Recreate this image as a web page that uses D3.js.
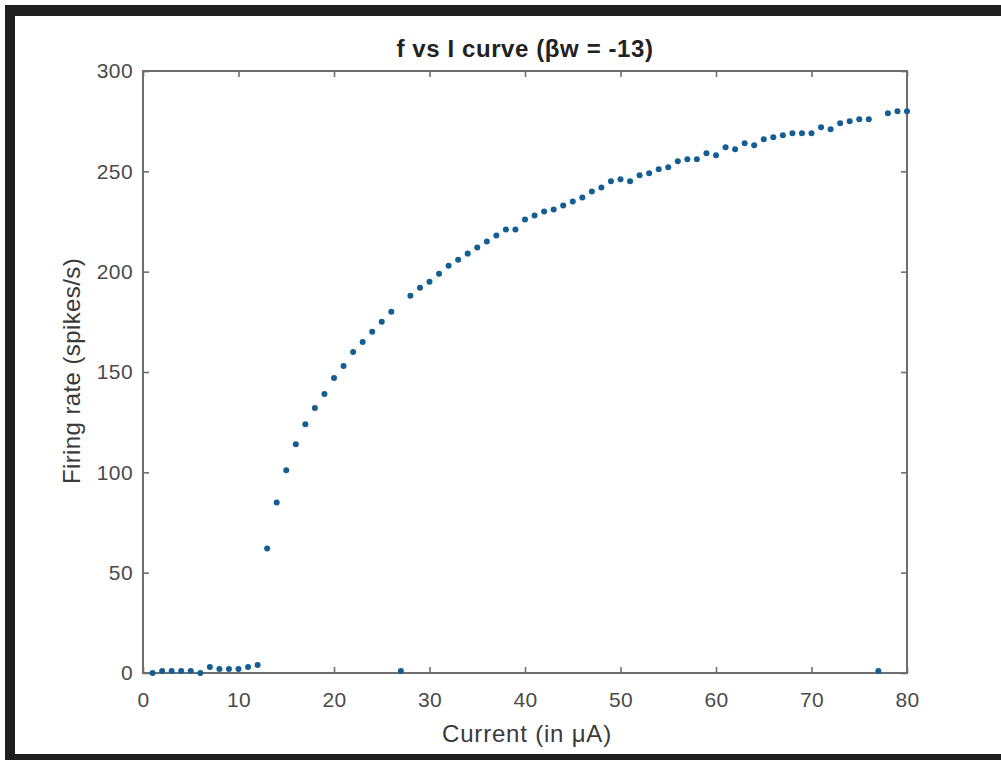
<!DOCTYPE html>
<html>
<head>
<meta charset="utf-8">
<script src="https://cdn.jsdelivr.net/npm/d3@7"></script>
<style>
  html, body { margin: 0; padding: 0; background: #fff; }
  svg { display: block; }
  text { font-family: "Liberation Sans", Arial, sans-serif; }
</style>
</head>
<body>
<svg id="chart" width="1001" height="760"></svg>
<script>
// ---- data ----
const current = [1,2,3,4,5,6,7,8,9,10,11,12,13,14,15,16,17,18,19,20,
                 21,22,23,24,25,26,27,28,29,30,31,32,33,34,35,36,37,38,39,40,
                 41,42,43,44,45,46,47,48,49,50,51,52,53,54,55,56,57,58,59,60,
                 61,62,63,64,65,66,67,68,69,70,71,72,73,74,75,76,77,78,79,80];
const firingRate = [0,1,1,1,1,0,3,2,2,2,3,4,62,85,101,114,124,132,139,147,
                    153,160,165,170,175,180,1,188,192,195,199,203,206,209,212,215,218,221,221,226,
                    228,230,231,233,235,237,240,242,245,246,245,248,249,251,252,255,256,256,259,258,
                    262,261,264,263,266,267,268,269,269,269,272,271,274,275,276,276,1,279,280,280];
const xTicks = [0,10,20,30,40,50,60,70,80];
const yTicks = [0,50,100,150,200,250,300];
const titleText = "f vs I curve (\u03B2w = -13)";
const xLabel = "Current (in \u03BCA)";
const yLabel = "Firing rate (spikes/s)";

const svg = d3.select("#chart");

// photo frame (black border on top, left and bottom)
svg.append("rect").attr("x", 5).attr("y", 5).attr("width", 996).attr("height", 755).attr("fill", "#1e1e1e");
svg.append("rect").attr("x", 15).attr("y", 16).attr("width", 986).attr("height", 738).attr("fill", "#ffffff");

const plot = { left: 143, right: 907, top: 71, bottom: 673 };
const x = d3.scaleLinear().domain([0, 80]).range([plot.left, plot.right]);
const y = d3.scaleLinear().domain([0, 300]).range([plot.bottom, plot.top]);

const axisColor = "#6f6f6f";
const tickText = "#4a4a4a";

// box
svg.append("rect")
  .attr("x", plot.left).attr("y", plot.top)
  .attr("width", plot.right - plot.left).attr("height", plot.bottom - plot.top)
  .attr("fill", "none").attr("stroke", axisColor).attr("stroke-width", 2);

function styleAxis(g) {
  g.select(".domain").remove();
  g.selectAll(".tick line").attr("stroke", axisColor).attr("stroke-width", 1.6);
  g.selectAll(".tick text").attr("fill", tickText).style("font-size", "21px").style("letter-spacing", "0.4px");
}

// bottom axis (ticks inward)
svg.append("g").attr("transform", `translate(0,${plot.bottom})`)
  .call(d3.axisBottom(x).tickValues(xTicks).tickSizeInner(-6).tickSizeOuter(0).tickPadding(19).tickFormat(d3.format("d")))
  .call(styleAxis);
// top axis ticks only
svg.append("g").attr("transform", `translate(0,${plot.top})`)
  .call(d3.axisTop(x).tickValues(xTicks).tickSizeInner(-6).tickSizeOuter(0).tickFormat(""))
  .call(styleAxis);
// left axis
svg.append("g").attr("transform", `translate(${plot.left},0)`)
  .call(d3.axisLeft(y).tickValues(yTicks).tickSizeInner(-6).tickSizeOuter(0).tickPadding(10).tickFormat(d3.format("d")))
  .call(styleAxis);
// right axis ticks only
svg.append("g").attr("transform", `translate(${plot.right},0)`)
  .call(d3.axisRight(y).tickValues(yTicks).tickSizeInner(-6).tickSizeOuter(0).tickFormat(""))
  .call(styleAxis);

// points
const data = current.map((c, i) => ({ c, f: firingRate[i] }));
svg.append("g").selectAll("circle").data(data).join("circle")
  .attr("cx", d => x(d.c)).attr("cy", d => y(d.f))
  .attr("r", 3).attr("fill", "#145e94");

// title
svg.append("text").attr("x", 525).attr("y", 57)
  .attr("text-anchor", "middle").attr("fill", "#222")
  .style("font-size", "24px").style("font-weight", "bold").style("letter-spacing", "0.6px").text(titleText);

// x label
svg.append("text").attr("x", 527).attr("y", 742)
  .attr("text-anchor", "middle").attr("fill", "#3a3a3a")
  .style("font-size", "24px").style("letter-spacing", "0.8px").text(xLabel);

// y label
svg.append("text").attr("transform", `translate(80,371) rotate(-90)`)
  .attr("text-anchor", "middle").attr("fill", "#3a3a3a")
  .style("font-size", "24px").style("letter-spacing", "0.4px").text(yLabel);
</script>
</body>
</html>
